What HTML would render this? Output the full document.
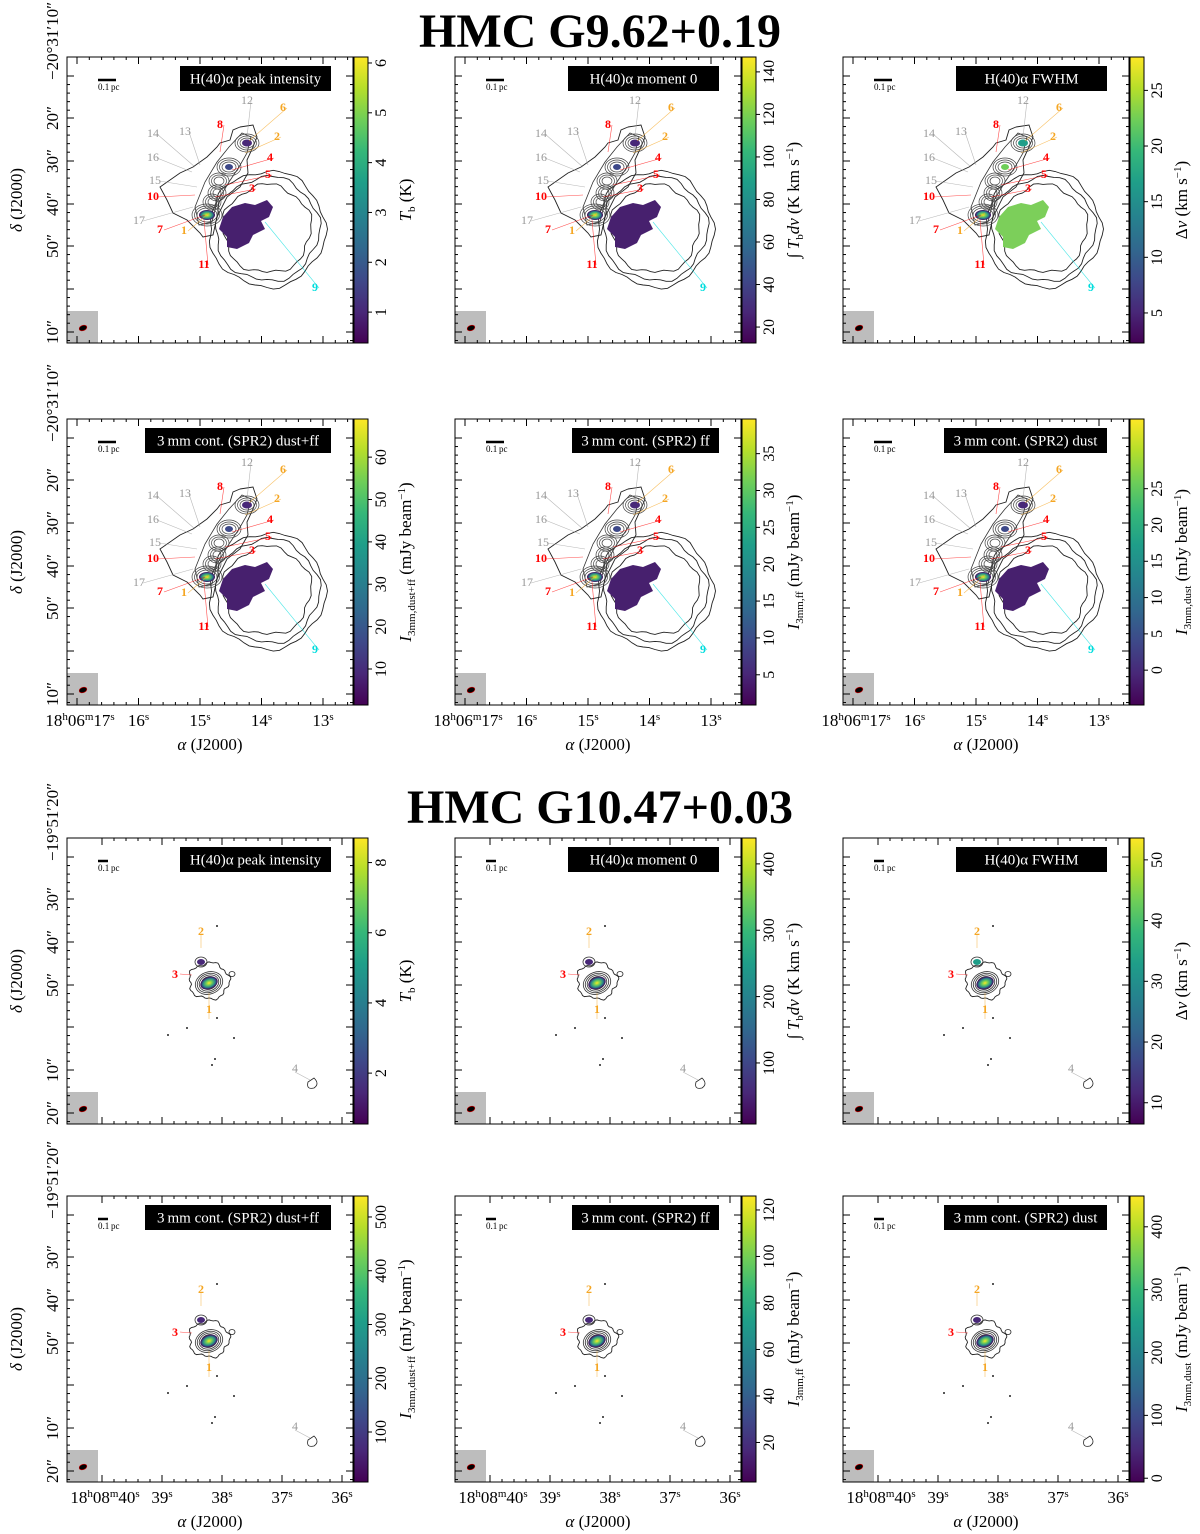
<!DOCTYPE html>
<html><head><meta charset="utf-8">
<style>
body{margin:0;background:#fff;}
svg{display:block;font-family:"Liberation Serif",serif;}
</style></head>
<body>
<svg id="fig" width="1200" height="1534" viewBox="0 0 1200 1534" xmlns="http://www.w3.org/2000/svg">
<defs>
<linearGradient id="vir" x1="0" y1="1" x2="0" y2="0">
<stop offset="0" stop-color="#440154"/><stop offset="0.11" stop-color="#482878"/><stop offset="0.22" stop-color="#3e4989"/><stop offset="0.33" stop-color="#31688e"/><stop offset="0.44" stop-color="#26828e"/><stop offset="0.56" stop-color="#1f9e89"/><stop offset="0.67" stop-color="#35b779"/><stop offset="0.78" stop-color="#6ece58"/><stop offset="0.89" stop-color="#b5de2b"/><stop offset="1" stop-color="#fde725"/>
</linearGradient>
<radialGradient id="hot"><stop offset="0" stop-color="#fde725"/><stop offset="0.35" stop-color="#6ece58"/><stop offset="0.7" stop-color="#26828e"/><stop offset="1" stop-color="#440154"/></radialGradient>
</defs>
<text x="600" y="47" text-anchor="middle" font-size="48" font-weight="bold">HMC G9.62+0.19</text>
<text x="600" y="823" text-anchor="middle" font-size="48" font-weight="bold">HMC G10.47+0.03</text>
</svg>
<script>
// ---- data ----
const colX = [67, 455, 843];
const rowY = [57, 419, 838, 1196];
const panelLabels = ["H(40)\u03b1 peak intensity","H(40)\u03b1 moment 0","H(40)\u03b1 FWHM","3\u2009mm cont. (SPR2) dust+ff","3\u2009mm cont. (SPR2) ff","3\u2009mm cont. (SPR2) dust"];
const labelWidths = [151,151,151,186,147,163];
const vmins = [0.38,12.5,2.3,1.5,0.9,-4.8, 0.55,8,6.5,7,3,-6];
const vmaxs = [6.12,147,28,69,39.7,34.6, 8.7,439,53.6,539,126,449];
const cbTicks = [[1,2,3,4,5,6],[20,40,60,80,100,120,140],[5,10,15,20,25],[10,20,30,40,50,60],[5,10,15,20,25,30,35],[0,5,10,15,20,25],
 [2,4,6,8],[100,200,300,400],[10,20,30,40,50],[100,200,300,400,500],[20,40,60,80,100,120],[0,100,200,300,400]];
const yTickLabelsG9 = ["\u221220\u00b031\u203210\u2033","20\u2033","30\u2033","40\u2033","50\u2033","","10\u2033"];
const yTickLabelsG10 = ["\u221219\u00b051\u203220\u2033","30\u2033","40\u2033","50\u2033","","10\u2033","20\u2033"];
const xTickLabelsG9 = ["17","16","15","14","13"];
const xTickLabelsG10 = ["40","39","38","37","36"];
const yTickOffsets = [19,61,104,147,189,232,275];
const ns="http://www.w3.org/2000/svg";
const svg=document.getElementById('fig');
function mk(tag,attrs,parent,txt){const e=document.createElementNS(ns,tag);for(const k in attrs)e.setAttribute(k,attrs[k]);if(txt!==undefined)e.textContent=txt;(parent||svg).appendChild(e);return e;}
const W=286,H=286,CBW=14;

function cbTitle(g,i,x,y){
  const t=mk('text',{x:x,y:y,'font-size':17,'text-anchor':'middle',transform:`rotate(-90 ${x} ${y})`},g);
  
  
  const k=i%6;
  function ts(s,a){return mk('tspan',a||{},t,s);}
  if(k===0){ts('T',{'font-style':'italic'});ts('b',{'font-size':11,dy:4});ts(' (K)',{dy:-4});}
  else if(k===1){ts('\u222b ');ts('T',{'font-style':'italic'});ts('b',{'font-size':11,dy:4});ts('d',{dy:-4,'font-style':'italic'});ts('v',{'font-style':'italic'});ts(' (K km s');ts('\u22121',{'font-size':11,dy:-6});ts(')',{dy:6});}
  else if(k===2){ts('\u0394');ts('v',{'font-style':'italic'});ts(' (km s');ts('\u22121',{'font-size':11,dy:-6});ts(')',{dy:6});}
  else {const sub=['3mm,dust+ff','3mm,ff','3mm,dust'][k-3];ts('I',{'font-style':'italic'});ts(sub,{'font-size':11,dy:4});ts(' (mJy beam',{dy:-4});ts('\u22121',{'font-size':11,dy:-6});ts(')',{dy:6});}
}

function blobPath(cx,cy,rx,ry,amp,seed){let d='';for(let j=0;j<=60;j++){const a=j/60*Math.PI*2;const r=1+amp*(Math.sin(a*5+seed)*0.6+Math.sin(a*13+seed*2)*0.4);d+=(j?'L':'M')+(cx+rx*r*Math.cos(a)).toFixed(1)+','+(cy+ry*r*Math.sin(a)).toFixed(1);}return d+'Z';}

function drawG9(g,x0,y0,k){
  const P=(a,b)=>[x0+a,y0+b];
  [[58,58,0.05],[52,52,0.06],[44,44,0.07]].forEach((s,j)=>{
    const p=mk('path',{d:blobPath(x0+200,y0+172,s[0],s[1],s[2],j+1),fill:'none',stroke:'#222','stroke-width':0.9},g);
    });
  const fil=[[173,70],[186,68],[190,80],[186,90],[180,103],[181,116],[173,130],[160,140],[150,160],[146,178],[136,180],[133,176],[120,163],[106,156],[100,143],[93,130],[113,116],[126,110],[140,100],[150,90],[153,86],[163,83],[166,73]];
  mk('path',{d:'M'+fil.map(p=>P(p[0],p[1]).join(',')).join('L')+'Z',fill:'none',stroke:'#222','stroke-width':0.9},g);
  const fil2=[[175,76],[184,80],[180,96],[172,110],[162,125],[150,145],[145,165],[132,168],[128,150],[138,125],[150,105],[162,90]];
  mk('path',{d:'M'+fil2.map(p=>P(p[0],p[1]).join(',')).join('L')+'Z',fill:'none',stroke:'#333','stroke-width':0.8},g);
  [[180,86,7,5],[162,110,7,5],[152,124,5,4],[150,136,4,4],[145,145,4,4],[140,158,10,7]].forEach(c=>{
    for(let r=0;r<3;r++)mk('ellipse',{cx:x0+c[0],cy:y0+c[1],rx:c[2]+r*2.5,ry:c[3]+r*2,fill:'none',stroke:'#444','stroke-width':0.7},g);});
  const patchCol=(k===2)?'#7ccf5a':'#47206e';
  const patch=[[165,150],[178,146],[188,148],[200,143],[206,150],[202,160],[194,164],[198,172],[186,178],[182,186],[170,192],[160,190],[160,180],[152,172],[156,160]];
  const pp=mk('path',{d:'M'+patch.map(p=>P(p[0],p[1]).join(',')).join('L')+'Z',fill:patchCol},g);
  
  mk('ellipse',{cx:x0+140,cy:y0+158,rx:8,ry:5,fill:'url(#hot)'},g);
  mk('ellipse',{cx:x0+180,cy:y0+86,rx:5,ry:3.5,fill:k===2?'#1f9e89':'#482878'},g);
  mk('ellipse',{cx:x0+162,cy:y0+110,rx:4,ry:3,fill:k===2?'#6ece58':'#3e4989'},g);
  const labs=[["12",180,42,'#999'],["6",216,49,'#f5a623'],["8",153,66,'#f00'],["2",210,78,'#f5a623'],["14",86,75,'#999'],["13",118,73,'#999'],["16",86,99,'#999'],["4",203,99,'#f00'],["5",201,116,'#f00'],["15",88,122,'#999'],["3",185,130,'#f00'],["10",86,138,'#f00'],["17",72,162,'#999'],["7",93,171,'#f00'],["1",117,172,'#f5a623'],["11",137,206,'#f00'],["9",248,229,'#0dd']];
  const tgt={"12":[180,80],"6":[182,84],"8":[153,95],"2":[178,96],"14":[128,110],"13":[133,108],"16":[125,115],"4":[165,113],"5":[158,128],"15":[130,130],"3":[148,140],"10":[128,138],"17":[126,150],"7":[138,158],"1":[142,156],"11":[137,163],"9":[198,165]};
  labs.forEach(l=>{const t=tgt[l[0]];mk('line',{x1:x0+l[1]+4,y1:y0+l[2]+2,x2:x0+t[0],y2:y0+t[1],stroke:l[3],'stroke-width':0.6,opacity:0.7},g);
    const tx=mk('text',{x:x0+l[1],y:y0+l[2]+5,'font-size':12,'font-weight':l[3]==='#999'?'normal':'bold',fill:l[3],'text-anchor':'middle'},g,l[0]);
    });
}
function drawG10(g,x0,y0,k){
  mk('path',{d:blobPath(x0+142,y0+143,20,18,0.12,2),fill:'none',stroke:'#222','stroke-width':0.9},g);
  for(let r=0;r<5;r++)mk('ellipse',{cx:x0+142,cy:y0+145,rx:14-r*2,ry:11-r*1.6,fill:'none',stroke:'#333','stroke-width':0.8,transform:`rotate(-20 ${x0+142} ${y0+145})`},g);
  const core=mk('ellipse',{cx:x0+142,cy:y0+145,rx:9,ry:6,fill:'url(#hot)',transform:`rotate(-20 ${x0+142} ${y0+145})`},g);
  
  mk('ellipse',{cx:x0+134,cy:y0+124,rx:6,ry:5,fill:'none',stroke:'#333','stroke-width':0.8},g);
  mk('ellipse',{cx:x0+134,cy:y0+124,rx:4,ry:3,fill:k===2?'#1f9e89':'#482878'},g);
  mk('ellipse',{cx:x0+165,cy:y0+136,rx:3,ry:2.5,fill:'none',stroke:'#222','stroke-width':0.8},g);
  mk('path',{d:`M${x0+247},${y0+240}q6,6 0,10q-8,2 -6,-6z`,fill:'none',stroke:'#222','stroke-width':0.8},g);
  [[133,20],[150,88],[120,190],[167,200],[148,221],[145,227],[101,197],[150,180]].forEach(p=>mk('circle',{cx:x0+p[0],cy:y0+p[1],r:1,fill:'#222'},g));
  const labs=[["2",134,93,'#f5a623',134,110],["3",108,136,'#f00',125,137],["1",142,177,'#f5a623',142,155],["4",228,230,'#999',243,242]];
  labs.forEach(l=>{mk('line',{x1:x0+l[1]+(l[0]==='3'?5:0),y1:y0+l[2]+(l[0]==='3'?0:4),x2:x0+l[4],y2:y0+l[5],stroke:l[3],'stroke-width':0.6,opacity:0.7},g);
    const tx=mk('text',{x:x0+l[1],y:y0+l[2]+(l[0]==='1'?-2:4),'font-size':12,'font-weight':l[3]==='#999'?'normal':'bold',fill:l[3],'text-anchor':'middle'},g,l[0]);
    });
}

for(let r=0;r<4;r++)for(let c=0;c<3;c++){
  const i=r*3+c, x0=colX[c], y0=rowY[r], g9=r<2;
  const g=mk('g',{});
  
  
  mk('rect',{x:x0,y:y0,width:W,height:H,fill:'#fff'},g);
  if(g9)drawG9(g,x0,y0,i%6);else drawG10(g,x0,y0,i%6);
  mk('rect',{x:x0,y:y0+H-32,width:31,height:32,fill:'#bdbdbd'},g);
  mk('ellipse',{cx:x0+16,cy:y0+H-15,rx:4,ry:2.6,fill:'#000',stroke:'#c00','stroke-width':0.6,transform:`rotate(-20 ${x0+16} ${y0+H-15})`},g);
  mk('line',{x1:x0+31,y1:y0+23,x2:x0+(g9?49:41),y2:y0+23,stroke:'#000','stroke-width':2.5},g);
  mk('text',{x:x0+31,y:y0+33,'font-size':9},g,'0.1\u2009pc');
  const bw=labelWidths[i%6];
  const lb=mk('rect',{x:x0+264-bw,y:y0+9,width:bw,height:25,fill:'#000'},g);
  
  mk('text',{x:x0+264-bw/2,y:y0+26.5,'font-size':15,fill:'#fff','text-anchor':'middle'},g,panelLabels[i%6]);
  mk('rect',{x:x0,y:y0,width:W,height:H,fill:'none',stroke:'#000','stroke-width':1},g);
  const yl=g9?yTickLabelsG9:yTickLabelsG10;
  yTickOffsets.forEach((o,j)=>{const y=y0+o;
    mk('line',{x1:x0,y1:y,x2:x0+7,y2:y,stroke:'#000'},g);mk('line',{x1:x0+W,y1:y,x2:x0+W-7,y2:y,stroke:'#000'},g);
    for(let m=1;m<5;m++){const ym=y+m*8.55;if(ym<y0+H){mk('line',{x1:x0,y1:ym,x2:x0+3,y2:ym,stroke:'#000'},g);mk('line',{x1:x0+W,y1:ym,x2:x0+W-3,y2:ym,stroke:'#000'},g);}}
    if(c===0&&yl[j]){const yy=j===0?y+4:y;
      const t=mk('text',{x:x0-9,y:yy,'font-size':17,'text-anchor':j===0?'start':'middle',transform:`rotate(-90 ${x0-9} ${yy})`},g,yl[j]);
      }});
  const xl=g9?xTickLabelsG9:xTickLabelsG10;
  xl.forEach((s,j)=>{const x=x0+(g9?10+j*61.5:35+j*60);
    mk('line',{x1:x,y1:y0+H,x2:x,y2:y0+H-7,stroke:'#000'},g);mk('line',{x1:x,y1:y0,x2:x,y2:y0+7,stroke:'#000'},g);
    for(let m=1;m<5;m++){const xm=x+m*(g9?12.3:12);if(xm<x0+W){mk('line',{x1:xm,y1:y0+H,x2:xm,y2:y0+H-3,stroke:'#000'},g);mk('line',{x1:xm,y1:y0,x2:xm,y2:y0+3,stroke:'#000'},g);}}
    if(r===1||r===3){const t=mk('text',{x:x+(j===0?3:0),y:y0+H+21,'font-size':17,'text-anchor':'middle'},g);
      
      if(j===0){mk('tspan',{},t,'18');mk('tspan',{'font-size':11,dy:-6},t,'h');mk('tspan',{dy:6},t,g9?'06':'08');mk('tspan',{'font-size':11,dy:-6},t,'m');mk('tspan',{dy:6},t,s);mk('tspan',{'font-size':11,dy:-6},t,'s');}
      else{mk('tspan',{},t,s);mk('tspan',{'font-size':11,dy:-6},t,'s');}}});
  if(r===1||r===3){const t=mk('text',{x:x0+143,y:y0+H+45,'font-size':17,'text-anchor':'middle'},g);
    
    mk('tspan',{'font-style':'italic'},t,'\u03b1');mk('tspan',{},t,' (J2000)');}
  if(c===0){const t=mk('text',{x:22,y:y0+143,'font-size':17,'text-anchor':'middle',transform:`rotate(-90 22 ${y0+143})`},g);
    
    mk('tspan',{'font-style':'italic'},t,'\u03b4');mk('tspan',{},t,' (J2000)');}
  const cx=x0+W+1;
  const cb=mk('rect',{x:cx,y:y0,width:CBW,height:H,fill:'url(#vir)',stroke:'#000','stroke-width':1},g);
  
  const vmin=vmins[i],vmax=vmaxs[i];
  const yv=v=>y0+H-(v-vmin)/(vmax-vmin)*H;
  cbTicks[i].forEach(v=>{const y=yv(v);
    mk('line',{x1:cx+CBW,y1:y,x2:cx+CBW+4,y2:y,stroke:'#000'},g);
    const t=mk('text',{x:cx+CBW+18,y:y,'font-size':16,'text-anchor':'middle',transform:`rotate(-90 ${cx+CBW+18} ${y})`},g,String(v));
    });
  cbTitle(g,i,cx+CBW+43,y0+H/2);
}
</script>
</body></html>
